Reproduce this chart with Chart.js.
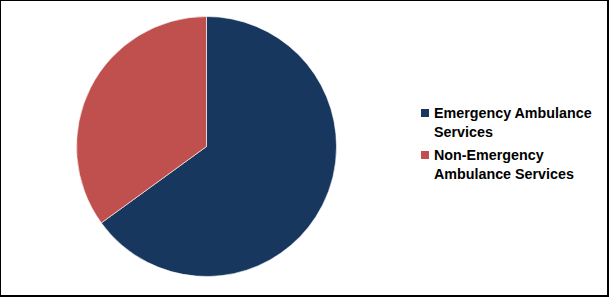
<!DOCTYPE html>
<html>
<head>
<meta charset="utf-8">
<script src="https://cdn.jsdelivr.net/npm/chart.js@4/dist/chart.umd.min.js"></script>
<style>
  html, body { margin: 0; padding: 0; background: #fff; }
  .frame {
    position: relative;
    width: 609px; height: 297px;
    box-sizing: border-box;
    border-style: solid; border-color: #000;
    border-width: 1px 2px 2px 1px;
    overflow: hidden;
  }
  #pie { position: absolute; left: 75px; top: 15px; }
  .legend { position: absolute; left: 420px; top: 103px; font-family: "Liberation Sans", Arial, sans-serif; font-weight: bold; font-size: 14.3px; color: #000; }
  .item { position: relative; padding-left: 13px; line-height: 19px; margin-bottom: 4px; }
  .box { position: absolute; left: 0; top: 5px; width: 8px; height: 8px; }
</style>
</head>
<body>
<div class="frame">
  <canvas id="pie" width="261" height="261"></canvas>
  <div class="legend" id="legend"></div>
</div>
<script>
// segmentos (em %)
var categorias = [['Emergency Ambulance', 'Services'], ['Non-Emergency', 'Ambulance Services']]
var valores = [65, 35]
var cores = ['#17375E', '#C0504D']

var ctx = document.getElementById('pie').getContext('2d');
var chart = new Chart(ctx, {
    type: 'pie',
    data: {
        labels: categorias.map(c => c.join(' ')),
        datasets: [{
            data: valores,
            backgroundColor: cores,
            borderColor: 'rgba(255,255,255,0.6)',
            borderWidth: 1
        }]
    },
    options: {
        responsive: false,
        animation: false,
        layout: { padding: 0 },
        plugins: {
            legend: { display: false },
            tooltip: { enabled: false }
        }
    }
});

// legenda
const legenda = document.querySelector('#legend')
categorias.forEach((linhas, i) => {
    var item = document.createElement('div')
    item.className = 'item'
    item.innerHTML = '<span class="box" style="background:' + cores[i] + '"></span>' + linhas.join('<br>')
    legenda.appendChild(item)
})
</script>
</body>
</html>
